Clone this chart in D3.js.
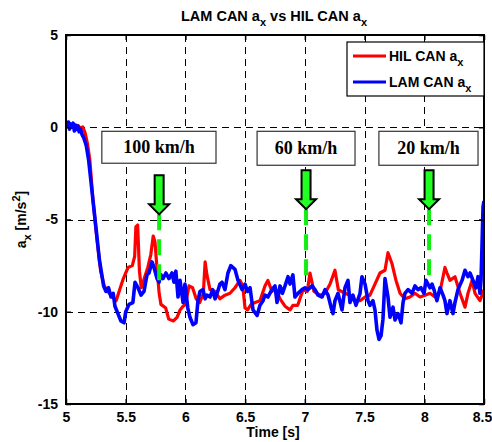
<!DOCTYPE html>
<html><head><meta charset="utf-8">
<script src="https://cdn.jsdelivr.net/npm/d3@7"></script>
<style>body{margin:0;background:#fff}svg{display:block}text{font-family:"Liberation Sans",Arial,sans-serif;font-weight:bold}</style>
</head><body><svg id="c" width="492" height="442"></svg>
<script>
// ---------- data ----------
const hilTime = [5.000,5.020,5.040,5.060,5.080,5.100,5.120,5.140,5.160,5.180,5.200,5.225,5.260,5.290,5.320,5.350,5.390,5.420,5.450,5.480,5.520,5.555,5.575,5.585,5.600,5.615,5.630,5.655,5.685,5.710,5.730,5.745,5.760,5.780,5.795,5.835,5.860,5.900,5.930,5.955,5.980,6.000,6.030,6.060,6.090,6.120,6.150,6.165,6.180,6.206,6.248,6.289,6.331,6.373,6.415,6.457,6.480,6.499,6.520,6.550,6.583,6.624,6.666,6.690,6.725,6.750,6.792,6.834,6.876,6.900,6.940,6.985,7.020,7.043,7.076,7.127,7.169,7.211,7.252,7.280,7.336,7.378,7.420,7.462,7.504,7.545,7.587,7.629,7.671,7.696,7.730,7.763,7.797,7.838,7.880,7.922,7.964,8.006,8.048,8.090,8.132,8.173,8.190,8.215,8.257,8.299,8.341,8.366,8.400,8.425,8.466,8.500];
const hilAx   = [0.10,0.18,0.05,0.14,0.02,0.10,-0.05,0.02,-0.30,-0.90,-1.80,-3.90,-6.10,-7.80,-8.60,-8.90,-9.20,-9.40,-8.80,-8.20,-7.60,-7.50,-7.00,-5.40,-5.30,-7.80,-8.70,-8.20,-7.60,-6.90,-5.90,-6.20,-7.50,-9.00,-9.60,-9.80,-10.40,-10.50,-10.30,-9.90,-9.70,-9.60,-8.60,-8.70,-9.30,-9.50,-9.00,-7.30,-8.00,-8.80,-8.90,-9.30,-9.10,-9.00,-8.70,-8.30,-8.60,-9.80,-9.90,-9.60,-9.50,-9.40,-8.60,-8.30,-8.90,-8.70,-9.30,-9.70,-9.90,-9.65,-9.65,-8.80,-8.90,-7.90,-8.90,-9.10,-9.00,-8.50,-7.75,-8.80,-9.00,-9.10,-9.40,-9.40,-9.20,-9.10,-8.50,-7.90,-7.75,-6.80,-7.40,-8.30,-9.00,-9.30,-9.20,-9.00,-9.20,-9.10,-9.00,-9.20,-8.90,-7.60,-7.90,-8.30,-8.10,-9.00,-9.75,-9.00,-8.30,-9.00,-9.40,-8.80];

const lamTime = [5.000,5.010,5.020,5.030,5.040,5.050,5.060,5.070,5.080,5.090,5.100,5.110,5.120,5.135,5.150,5.170,5.190,5.210,5.225,5.240,5.260,5.280,5.300,5.315,5.335,5.356,5.377,5.395,5.410,5.435,5.460,5.486,5.500,5.528,5.560,5.578,5.603,5.628,5.653,5.678,5.695,5.720,5.737,5.762,5.779,5.795,5.812,5.837,5.862,5.888,5.904,5.920,5.938,5.955,5.980,5.996,6.020,6.038,6.063,6.088,6.105,6.122,6.147,6.165,6.180,6.206,6.228,6.248,6.270,6.289,6.306,6.331,6.356,6.380,6.415,6.440,6.474,6.499,6.520,6.541,6.566,6.600,6.624,6.650,6.666,6.691,6.725,6.750,6.767,6.792,6.812,6.834,6.859,6.876,6.900,6.917,6.943,6.976,7.001,7.026,7.060,7.085,7.110,7.144,7.169,7.194,7.219,7.236,7.252,7.278,7.311,7.336,7.361,7.378,7.403,7.428,7.462,7.478,7.504,7.529,7.545,7.570,7.587,7.604,7.621,7.638,7.654,7.671,7.696,7.713,7.738,7.755,7.780,7.805,7.822,7.838,7.864,7.897,7.922,7.947,7.972,7.998,8.014,8.048,8.065,8.081,8.106,8.132,8.157,8.173,8.190,8.215,8.240,8.257,8.282,8.316,8.341,8.366,8.383,8.408,8.433,8.450,8.466,8.475,8.483,8.492,8.500];
const lamAx   = [0.20,0.05,0.28,-0.10,0.18,0.00,0.22,-0.20,0.12,-0.12,0.06,-0.25,-0.08,-0.40,-0.60,-1.00,-1.80,-3.00,-3.90,-4.80,-6.00,-7.20,-8.00,-8.60,-8.90,-8.70,-9.20,-9.00,-9.70,-10.10,-10.50,-10.60,-10.00,-9.60,-9.50,-8.40,-8.70,-9.10,-8.90,-8.00,-7.90,-7.30,-7.60,-8.20,-8.40,-8.00,-8.20,-7.90,-8.20,-7.90,-8.40,-7.80,-9.20,-8.30,-9.50,-8.50,-9.80,-10.30,-10.70,-10.60,-9.40,-8.90,-8.80,-9.30,-9.10,-9.20,-8.80,-9.30,-8.90,-8.50,-8.40,-8.80,-7.90,-7.50,-7.70,-8.30,-8.80,-8.50,-8.90,-8.70,-9.90,-10.20,-9.65,-9.40,-9.10,-9.20,-8.80,-8.60,-9.50,-8.60,-9.00,-8.60,-8.10,-8.50,-8.00,-9.20,-9.00,-8.80,-8.70,-8.80,-8.60,-8.80,-9.10,-9.20,-8.80,-9.10,-9.75,-10.10,-9.40,-9.00,-9.90,-8.70,-8.30,-9.50,-9.10,-9.65,-9.00,-8.10,-8.50,-9.40,-9.65,-9.40,-9.90,-11.00,-11.50,-11.30,-10.40,-8.20,-9.20,-10.30,-9.75,-10.45,-10.10,-10.60,-9.50,-9.00,-8.80,-9.00,-8.60,-8.80,-8.70,-9.00,-8.30,-8.70,-8.50,-8.80,-9.40,-8.70,-9.10,-9.40,-10.10,-9.40,-10.10,-9.50,-8.80,-8.30,-7.75,-8.10,-7.90,-8.30,-8.70,-8.10,-9.00,-8.30,-6.50,-4.30,-4.00];

const xTicks = [5, 5.5, 6, 6.5, 7, 7.5, 8, 8.5];
const xTickLabels = ["5", "5.5", "6", "6.5", "7", "7.5", "8", "8.5"];
const yTicks = [-15, -10, -5, 0, 5];
const yTickLabels = ["-15", "-10", "-5", "0", "5"];
const gridX = [5.5, 6, 6.5, 7, 7.5, 8];
const gridY = [-10, -5, 0];

// annotations (speed markers)
const markerLabels = ["100 km/h", "60 km/h", "20 km/h"];
const markerTime   = [5.78, 7.01, 8.04];
const markerTipAx  = [-4.72, -4.44, -4.44];
const markerEndAx  = [-8.46, -8.18, -8.13];
const boxT0  = [5.30, 6.60, 7.62];
const boxT1  = [6.256, 7.42, 8.45];
const boxAxTop = [-0.22, -0.22, -0.22];
const boxAxBot = [-1.95, -2.06, -2.06];

const seriesNames = ["HIL CAN a", "LAM CAN a"];
const seriesColors = ["#ff0000", "#0000ff"];

// ---------- drawing ----------
const svg = d3.select("#c");
const L = 66, R = 484, T = 35, B = 404;
const x = d3.scaleLinear().domain([5, 8.5]).range([L, R]);
const y = d3.scaleLinear().domain([-15, 5]).range([B, T]);

svg.append("defs").append("clipPath").attr("id","clip")
  .append("rect").attr("x", L).attr("y", T).attr("width", R-L).attr("height", B-T);

// grid
const g = svg.append("g").attr("stroke","#000").attr("stroke-width",1).attr("stroke-dasharray","7,5");
g.selectAll(".gx").data(gridX).join("line")
  .attr("x1", d=>Math.round(x(d))+0.5).attr("x2", d=>Math.round(x(d))+0.5).attr("y1", T).attr("y2", B);
g.selectAll(".gy").data(gridY).join("line")
  .attr("y1", d=>Math.round(y(d))+0.5).attr("y2", d=>Math.round(y(d))+0.5).attr("x1", L).attr("x2", R);

// lines
const line = d3.line().x(d=>x(d[0])).y(d=>y(d[1]));
const hil = hilTime.map((t,i)=>[t, hilAx[i]]);
const lam = lamTime.map((t,i)=>[t, lamAx[i]]);
const lg = svg.append("g").attr("clip-path","url(#clip)");
lg.append("path").datum(hil).attr("d", line).attr("fill","none").attr("stroke", seriesColors[0]).attr("stroke-width",3.2).attr("stroke-linejoin","round");
lg.append("path").datum(lam).attr("d", line).attr("fill","none").attr("stroke", seriesColors[1]).attr("stroke-width",3.6).attr("stroke-linejoin","round");

// axes frame & ticks
const xAxB = d3.axisBottom(x).tickValues(xTicks).tickFormat((d,i)=>xTickLabels[i]).tickSizeInner(-5).tickSizeOuter(0).tickPadding(8);
const xAxT = d3.axisTop(x).tickValues(xTicks).tickFormat("").tickSizeInner(-5).tickSizeOuter(0);
const yAxL = d3.axisLeft(y).tickValues(yTicks).tickFormat((d,i)=>yTickLabels[i]).tickSizeInner(-5).tickSizeOuter(0).tickPadding(8);
const yAxR = d3.axisRight(y).tickValues(yTicks).tickFormat("").tickSizeInner(-5).tickSizeOuter(0);
function style(sel){
  sel.selectAll("path.domain").remove();
  sel.selectAll("line").attr("stroke","#000").attr("stroke-width",1.5);
  sel.selectAll("text").attr("fill","#000").style("font-size","14px").style("font-weight","bold").style("font-family","'Liberation Sans',Arial,sans-serif");
}
const gxb = svg.append("g").attr("transform",`translate(0,${B})`).call(xAxB).call(style);
gxb.selectAll("text").filter((d,i,n)=>i===n.length-1).attr("dx",-2);
svg.append("g").attr("transform",`translate(0,${T})`).call(xAxT).call(style);
svg.append("g").attr("transform",`translate(${L},0)`).call(yAxL).call(style);
svg.append("g").attr("transform",`translate(${R},0)`).call(yAxR).call(style);
svg.append("rect").attr("x",L).attr("y",T).attr("width",R-L).attr("height",B-T)
  .attr("fill","none").attr("stroke","#000").attr("stroke-width",2);

// annotations
const ann = svg.append("g");
markerLabels.forEach((lab,i)=>{
  const bx0 = x(boxT0[i]), bx1 = x(boxT1[i]), by0 = y(boxAxTop[i]), by1 = y(boxAxBot[i]);
  ann.append("rect").attr("x", bx0).attr("y", by0).attr("width", bx1-bx0).attr("height", by1-by0)
    .attr("fill","#fff").attr("stroke","#333").attr("stroke-width",1.2);
  ann.append("text").attr("x",(bx0+bx1)/2).attr("y",(by0+by1)/2+6).attr("text-anchor","middle")
    .style("font-family","'Liberation Serif','Times New Roman',serif").style("font-size","18px").style("font-weight","bold")
    .text(lab);
  const tx = x(markerTime[i]), ty = y(markerTipAx[i]);
  ann.append("line").attr("x1",tx).attr("x2",tx).attr("y1",ty).attr("y2",y(markerEndAx[i]))
    .attr("stroke","#11ee11").attr("stroke-width",4).attr("stroke-dasharray","16,9");
  const sw = 4.5, hw = 10, hh = 10, len = 39;
  const p = `M${tx-sw},${ty-len} L${tx+sw},${ty-len} L${tx+sw},${ty-hh} L${tx+hw},${ty-hh} L${tx},${ty} L${tx-hw},${ty-hh} L${tx-sw},${ty-hh} Z`;
  ann.append("path").attr("d",p).attr("fill","#22ff22").attr("stroke","#000").attr("stroke-width",2).attr("stroke-linejoin","miter");
});

// legend
const leg = svg.append("g");
leg.append("rect").attr("x",347).attr("y",42).attr("width",137).attr("height",54).attr("fill","#fff").attr("stroke","#000").attr("stroke-width",1.2);
[0,1].forEach(i=>{
  const ly = 56 + i*26;
  leg.append("line").attr("x1",353).attr("x2",386).attr("y1",ly).attr("y2",ly).attr("stroke",seriesColors[i]).attr("stroke-width",3);
  const t = leg.append("text").attr("x",389).attr("y",ly+5).style("font-size","14px");
  t.append("tspan").text(seriesNames[i]);
  t.append("tspan").attr("dy",5).style("font-size","11px").text("x");
});

// title
const tt = svg.append("text").attr("x",274).attr("y",21).attr("text-anchor","middle").style("font-size","14.5px");
tt.append("tspan").text("LAM CAN a");
tt.append("tspan").attr("dy",5).style("font-size","11px").text("x");
tt.append("tspan").attr("dy",-5).text(" vs HIL CAN a");
tt.append("tspan").attr("dy",5).style("font-size","11px").text("x");

// x label
svg.append("text").attr("x",273).attr("y",437).attr("text-anchor","middle").style("font-size","14px").text("Time [s]");
// y label
const yl = svg.append("text").attr("transform",`translate(26,${(T+B)/2}) rotate(-90)`).attr("text-anchor","middle").style("font-size","14px");
yl.append("tspan").text("a");
yl.append("tspan").attr("dy",5).style("font-size","11px").text("x");
yl.append("tspan").attr("dy",-5).text(" [m/s");
yl.append("tspan").attr("dy",-6).style("font-size","11px").text("2");
yl.append("tspan").attr("dy",6).text("]");
</script></body></html>
